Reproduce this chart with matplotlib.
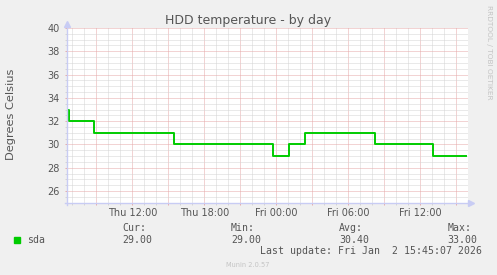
import matplotlib
matplotlib.use("Agg")
import matplotlib.pyplot as plt
from matplotlib.patches import Rectangle
from matplotlib.ticker import MultipleLocator

# data (hours counted from Thu 00:00)
change_hours = [6.58, 6.70, 8.83, 15.47, 23.70, 25.03, 26.39, 32.20, 37.03]
temps = [33, 32, 31, 30, 29, 30, 31, 30, 29]
end_hour = 39.78

tick_hours = [9, 12, 15, 18, 21, 24, 27, 30, 33, 36, 39]
tick_labels = ["", "Thu 12:00", "", "Thu 18:00", "", "Fri 00:00", "",
               "Fri 06:00", "", "Fri 12:00", ""]
y_ticks = [26, 28, 30, 32, 34, 36, 38, 40]

legend_cols = ["Cur:", "Min:", "Avg:", "Max:"]
legend_vals = ["29.00", "29.00", "30.40", "33.00"]

W, H = 497, 275
BG = "#f0f0f0"
TXT = "#555555"
MAJ = "#e6a8a8"
MIN = "#d4d4d4"
AXC = "#c8ccf4"
GREEN = "#00cc00"

def fx(x):
    return x / W

def fy(y):
    return 1 - y / H

fig = plt.figure(figsize=(W / 100, H / 100), dpi=100, facecolor=BG)
left, right, top, bottom = 66.7, 468.3, 28.0, 202.7
ax = fig.add_axes([fx(left), fy(bottom), (right - left) / W, (bottom - top) / H])
ax.set_facecolor("white")

xs = change_hours + [end_hour]
ys = temps + [temps[-1]]
ax.step(xs, ys, where="post", color=GREEN, lw=1.4, zorder=5)

ax.set_xlim(6.53, 40.0)
ax.set_ylim(25, 40)

ax.set_xticks(tick_hours)
ax.set_xticklabels(tick_labels)
ax.xaxis.set_minor_locator(MultipleLocator(1))
ax.set_yticks(y_ticks)
ax.yaxis.set_minor_locator(MultipleLocator(0.5))

ax.grid(which="minor", color=MIN, lw=0.72, linestyle=(0, (1, 1)), zorder=1)
ax.grid(which="major", color=MAJ, lw=0.72, linestyle=(0, (1, 1)), zorder=2)

ax.tick_params(which="major", length=1.5, width=0.7, color=MAJ,
               labelsize=7, labelcolor=TXT)
ax.tick_params(axis="x", which="major", pad=2.6)
ax.tick_params(axis="y", which="major", pad=3.4)
ax.tick_params(which="minor", length=1.5, width=0.7, color=MIN)

for s in ax.spines.values():
    s.set_visible(False)

# axis lines with arrows
ax.plot([0, 0], [-0.012, 1.0], color=AXC, lw=1, transform=ax.transAxes, clip_on=False, zorder=6)
ax.plot([-0.005, 1.0], [0, 0], color=AXC, lw=1, transform=ax.transAxes, clip_on=False, zorder=6)
ax.plot([0], [1.022], marker="^", ms=4, color=AXC, transform=ax.transAxes, clip_on=False, zorder=6)
ax.plot([1.006], [0], marker=">", ms=4, color=AXC, transform=ax.transAxes, clip_on=False, zorder=6)

fig.text(0.5, fy(24.2), "HDD temperature - by day", ha="center", va="baseline",
         fontsize=9, color=TXT)
fig.text(fx(10.7), fy(114), "Degrees Celsius", rotation=90, ha="center", va="center",
         fontsize=8.2, color=TXT)
fig.text(fx(489.3), fy(52), "RRDTOOL / TOBI OETIKER", rotation=270, ha="center",
         va="center", fontsize=5.3, color="#c4c4c4")

mono = "DejaVu Sans Mono"
col_x = [122.3, 231.0, 339.3, 447.3]
for cx, name, val in zip(col_x, legend_cols, legend_vals):
    fig.text(fx(cx), fy(230.7), name, ha="left", va="baseline", family=mono,
             fontsize=7.1, color=TXT)
    fig.text(fx(cx), fy(242.7), val, ha="left", va="baseline", family=mono,
             fontsize=7.1, color=TXT)

fig.add_artist(Rectangle((fx(14), fy(242.7)), 6 / W, 6 / H, transform=fig.transFigure,
                         color=GREEN))
fig.text(fx(26.7), fy(242.7), "sda", ha="left", va="baseline", family=mono,
         fontsize=7.1, color=TXT)
fig.text(fx(482.3), fy(254), "Last update: Fri Jan  2 15:45:07 2026", ha="right",
         va="baseline", family=mono, fontsize=7.1, color=TXT)
fig.text(fx(248), fy(267), "Munin 2.0.57", ha="center", va="baseline",
         fontsize=4.8, color="#c4c4c4")

fig.savefig("out.png", dpi=100, facecolor=BG)
